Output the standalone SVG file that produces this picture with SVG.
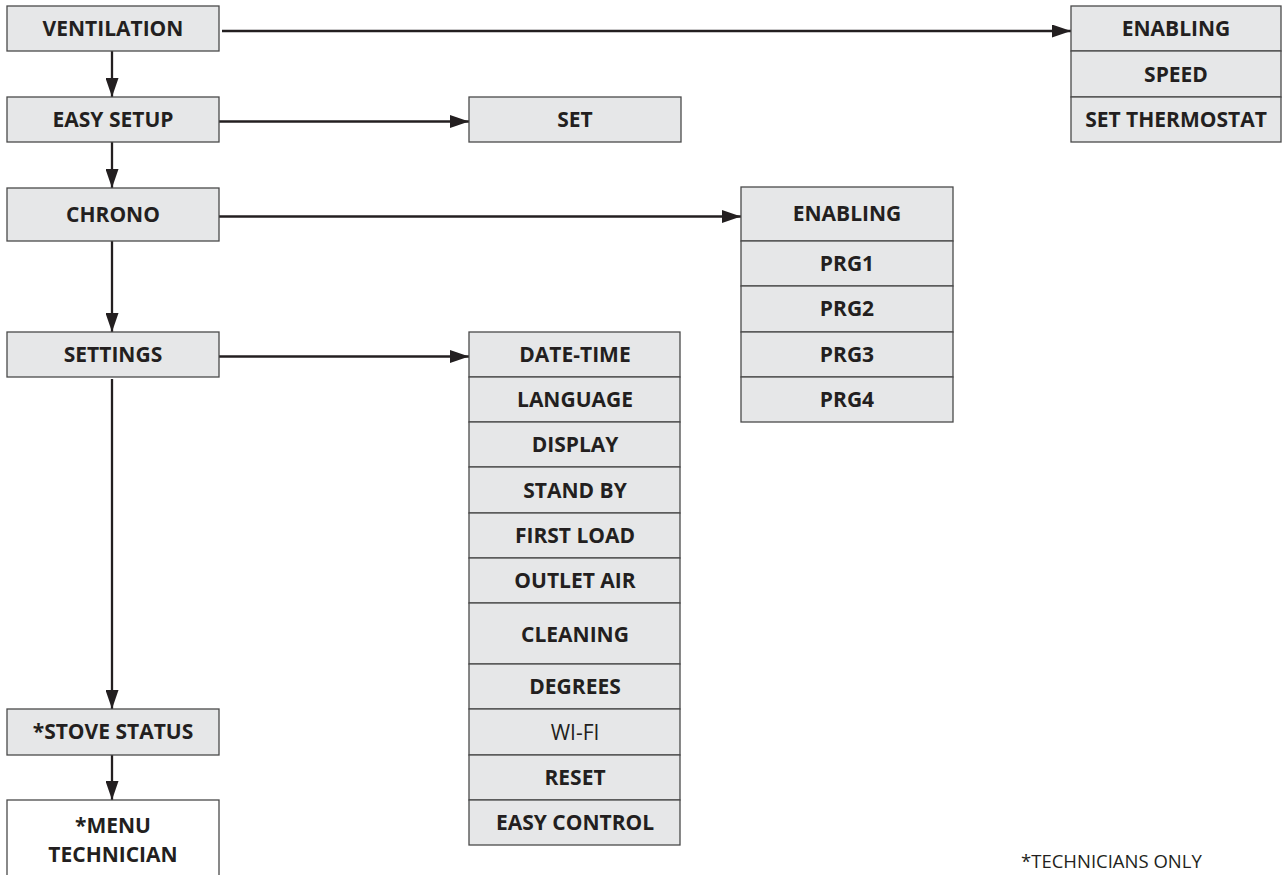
<svg xmlns="http://www.w3.org/2000/svg" width="1282" height="875" viewBox="0 0 1282 875">
<style>
.box{fill:#e6e7e8;stroke:#4a4a4a;stroke-width:1.3}
.wbox{fill:#ffffff;stroke:#4a4a4a;stroke-width:1.3}
.t{font-family:"Open Sans","Liberation Sans",sans-serif;font-weight:700;font-size:21px;fill:#231f20;text-anchor:middle}
.r{font-weight:400}
.note{font-family:"Open Sans","Liberation Sans",sans-serif;font-size:18.5px;fill:#231f20}
.c{stroke:#231f20;stroke-width:2.3;fill:none;marker-end:url(#ah)}
</style>
<defs>
<marker id="ah" markerUnits="userSpaceOnUse" markerWidth="19" markerHeight="13" refX="19" refY="6.5" orient="auto">
<path d="M0,0 L19,6.5 L0,13 z" fill="#231f20"/>
</marker>
</defs>
<rect width="1282" height="875" fill="#ffffff"/>
<g id="connectors">
<line class="c" x1="222" y1="31" x2="1071" y2="31"/>
<line class="c" x1="219" y1="121.5" x2="469" y2="121.5"/>
<line class="c" x1="219" y1="216.5" x2="741" y2="216.5"/>
<line class="c" x1="219" y1="356.5" x2="469" y2="356.5"/>
<line class="c" x1="112" y1="51" x2="112" y2="97"/>
<line class="c" x1="112" y1="142" x2="112" y2="188"/>
<line class="c" x1="112" y1="241" x2="112" y2="332"/>
<line class="c" x1="112" y1="379" x2="112" y2="709"/>
<line class="c" x1="112" y1="755" x2="112" y2="800"/>
</g>
<g id="ventilation"><rect class="box" x="7" y="6" width="212" height="45"/><text class="t" x="113" y="36">VENTILATION</text></g>
<g id="easy-setup"><rect class="box" x="7" y="97" width="212" height="45"/><text class="t" x="113" y="127">EASY SETUP</text></g>
<g id="chrono"><rect class="box" x="7" y="188" width="212" height="53"/><text class="t" x="113" y="222">CHRONO</text></g>
<g id="settings"><rect class="box" x="7" y="332" width="212" height="45"/><text class="t" x="113" y="362">SETTINGS</text></g>
<g id="stove-status"><rect class="box" x="7" y="709" width="212" height="46"/><text class="t" x="113" y="739">*STOVE STATUS</text></g>
<g id="menu-technician"><rect class="wbox" x="7" y="800" width="212" height="90"/><text class="t" x="113" y="833">*MENU</text><text class="t" x="113" y="862">TECHNICIAN</text></g>
<g id="set"><rect class="box" x="469" y="97" width="212" height="45"/><text class="t" x="575" y="127">SET</text></g>
<g id="ventilation-menu">
<g id="v-enabling"><rect class="box" x="1071" y="6" width="210" height="45"/><text class="t" x="1176" y="36">ENABLING</text></g>
<g id="v-speed"><rect class="box" x="1071" y="51" width="210" height="46"/><text class="t" x="1176" y="82">SPEED</text></g>
<g id="v-set-thermostat"><rect class="box" x="1071" y="97" width="210" height="45"/><text class="t" x="1176" y="127">SET THERMOSTAT</text></g>
</g>
<g id="chrono-menu">
<g id="c-enabling"><rect class="box" x="741" y="187" width="212" height="54"/><text class="t" x="847" y="221">ENABLING</text></g>
<g id="c-prg1"><rect class="box" x="741" y="241" width="212" height="45"/><text class="t" x="847" y="271">PRG1</text></g>
<g id="c-prg2"><rect class="box" x="741" y="286" width="212" height="46"/><text class="t" x="847" y="316">PRG2</text></g>
<g id="c-prg3"><rect class="box" x="741" y="332" width="212" height="45"/><text class="t" x="847" y="362">PRG3</text></g>
<g id="c-prg4"><rect class="box" x="741" y="377" width="212" height="45"/><text class="t" x="847" y="407">PRG4</text></g>
</g>
<g id="settings-menu">
<g id="s-date-time"><rect class="box" x="469" y="332" width="211" height="45"/><text class="t" x="575" y="362">DATE-TIME</text></g>
<g id="s-language"><rect class="box" x="469" y="377" width="211" height="45"/><text class="t" x="575" y="407">LANGUAGE</text></g>
<g id="s-display"><rect class="box" x="469" y="422" width="211" height="45"/><text class="t" x="575" y="452">DISPLAY</text></g>
<g id="s-stand-by"><rect class="box" x="469" y="467" width="211" height="46"/><text class="t" x="575" y="498">STAND BY</text></g>
<g id="s-first-load"><rect class="box" x="469" y="513" width="211" height="45"/><text class="t" x="575" y="543">FIRST LOAD</text></g>
<g id="s-outlet-air"><rect class="box" x="469" y="558" width="211" height="45"/><text class="t" x="575" y="588">OUTLET AIR</text></g>
<g id="s-cleaning"><rect class="box" x="469" y="603" width="211" height="61"/><text class="t" x="575" y="642">CLEANING</text></g>
<g id="s-degrees"><rect class="box" x="469" y="664" width="211" height="45"/><text class="t" x="575" y="694">DEGREES</text></g>
<g id="s-wi-fi"><rect class="box" x="469" y="709" width="211" height="46"/><text class="t r" x="575" y="740">WI-FI</text></g>
<g id="s-reset"><rect class="box" x="469" y="755" width="211" height="45"/><text class="t" x="575" y="785">RESET</text></g>
<g id="s-easy-control"><rect class="box" x="469" y="800" width="211" height="45"/><text class="t" x="575" y="830">EASY CONTROL</text></g>
</g>
<text class="note" x="1021" y="868">*TECHNICIANS ONLY</text>
</svg>
